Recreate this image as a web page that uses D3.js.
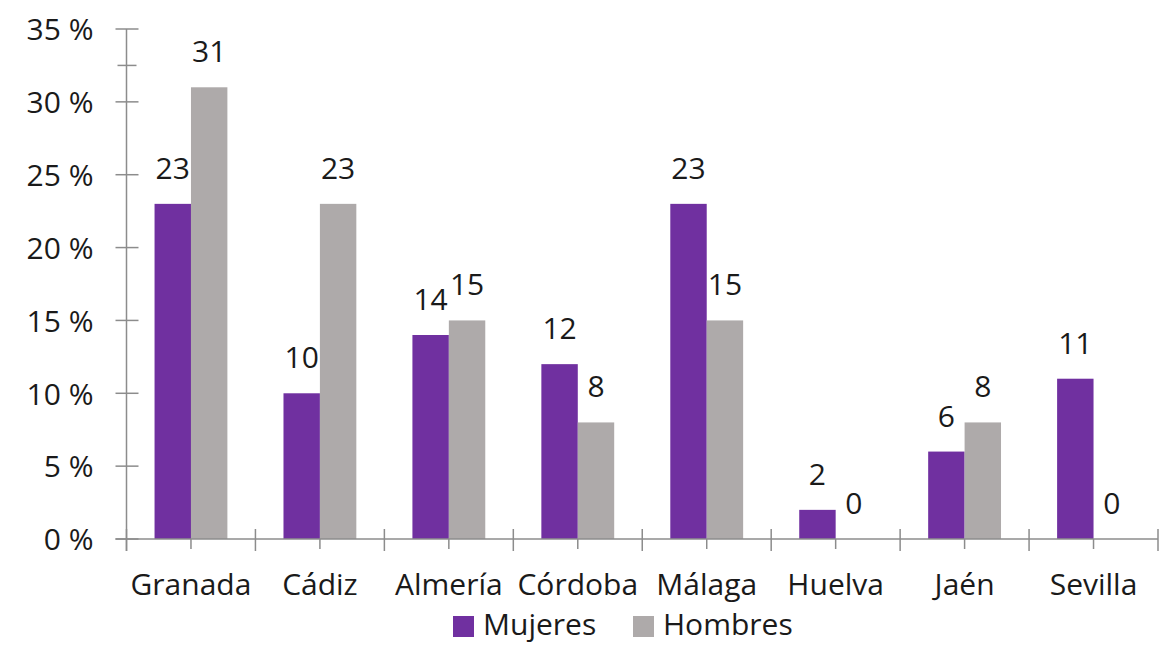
<!DOCTYPE html>
<html>
<head>
<meta charset="utf-8">
<script src="https://cdn.jsdelivr.net/npm/d3@7"></script>
<style>
  body { margin: 0; background: #fff; }
  text { font-family: "Open Sans", sans-serif; fill: #1a1a1a; }
</style>
</head>
<body>
<div id="chart"></div>
<script>
const provincias = ["Granada", "Cádiz", "Almería", "Córdoba", "Málaga", "Huelva", "Jaén", "Sevilla"];
const series = ["Mujeres", "Hombres"];
const mujeres = [23, 10, 14, 12, 23, 2, 6, 11];
const hombres = [31, 23, 15, 8, 15, 0, 8, 0];
const yTicks = [0, 5, 10, 15, 20, 25, 30, 35];
const colors = { Mujeres: "#7030a0", Hombres: "#aeaaaa" };

const width = 1161, height = 645;
const margin = { top: 29, right: 3, bottom: 106, left: 126.5 };
const axisColor = "#8c8c8c";
const fontSize = 30;

const svg = d3.select("#chart").append("svg")
    .attr("width", width)
    .attr("height", height);

const x0 = d3.scaleBand()
    .domain(provincias)
    .range([margin.left, width - margin.right])
    .paddingInner(0).paddingOuter(0);

const x1 = d3.scaleBand()
    .domain(series)
    .range([0, x0.bandwidth()])
    .paddingInner(0).paddingOuter(0.77);

const y = d3.scaleLinear()
    .domain([0, 35])
    .range([height - margin.bottom, margin.top]);

const data = provincias.map((p, i) => ({ provincia: p, Mujeres: mujeres[i], Hombres: hombres[i] }));

// bars
const groups = svg.append("g").selectAll("g")
    .data(data)
    .join("g")
    .attr("transform", d => `translate(${x0(d.provincia)},0)`);

groups.selectAll("rect")
    .data(d => series.map(s => ({ key: s, value: d[s] })))
    .join("rect")
    .attr("x", d => x1(d.key))
    .attr("y", d => y(d.value))
    .attr("width", x1.bandwidth())
    .attr("height", d => y(0) - y(d.value))
    .attr("fill", d => colors[d.key]);

groups.selectAll("text.lbl")
    .data(d => series.map(s => ({ key: s, value: d[s] })))
    .join("text")
    .attr("class", "lbl")
    .attr("x", d => x1(d.key) + x1.bandwidth() / 2)
    .attr("y", d => y(d.value) - 25)
    .attr("text-anchor", "middle")
    .attr("font-size", fontSize)
    .text(d => d.value);

// y axis
const yAxis = svg.append("g")
    .attr("transform", `translate(${margin.left},0)`)
    .call(d3.axisLeft(y).tickValues(yTicks).tickSize(0).tickPadding(33)
        .tickFormat(d => d + " %"));
yAxis.select(".domain").remove();
yAxis.selectAll("text").attr("font-size", fontSize).attr("dy", "0.36em").attr("fill", "#1a1a1a");

svg.append("g").selectAll("line")
    .data(yTicks)
    .join("line")
    .attr("x1", margin.left - 11).attr("x2", margin.left + 12)
    .attr("y1", d => y(d)).attr("y2", d => y(d))
    .attr("stroke", axisColor).attr("stroke-width", 1.5);

svg.append("line")
    .attr("x1", margin.left - 9).attr("x2", margin.left + 10)
    .attr("y1", y(32.5)).attr("y2", y(32.5))
    .attr("stroke", axisColor).attr("stroke-width", 1.5);

svg.append("line")
    .attr("x1", margin.left).attr("x2", margin.left)
    .attr("y1", y(35)).attr("y2", y(0) + 12)
    .attr("stroke", axisColor).attr("stroke-width", 1.5);

// x axis
svg.append("line")
    .attr("x1", margin.left - 11).attr("x2", width - margin.right)
    .attr("y1", y(0)).attr("y2", y(0))
    .attr("stroke", axisColor).attr("stroke-width", 1.5);

const bounds = provincias.map(p => x0(p)).concat([x0.range()[1]]);
svg.append("g").selectAll("line")
    .data(bounds)
    .join("line")
    .attr("x1", d => d).attr("x2", d => d)
    .attr("y1", y(0) - 10).attr("y2", y(0) + 12)
    .attr("stroke", axisColor).attr("stroke-width", 1.5);

svg.append("g").selectAll("line")
    .data(provincias)
    .join("line")
    .attr("x1", d => x0(d) + x0.bandwidth() / 2).attr("x2", d => x0(d) + x0.bandwidth() / 2)
    .attr("y1", y(0)).attr("y2", y(0) + 10)
    .attr("stroke", axisColor).attr("stroke-width", 1.5);

svg.append("g").selectAll("text")
    .data(provincias)
    .join("text")
    .attr("x", d => x0(d) + x0.bandwidth() / 2)
    .attr("y", 595)
    .attr("text-anchor", "middle")
    .attr("font-size", fontSize)
    .text(d => d);

// legend
const legendX = [453, 633];
const legend = svg.append("g").selectAll("g")
    .data(series)
    .join("g")
    .attr("transform", (d, i) => `translate(${legendX[i]},616)`);
legend.append("rect")
    .attr("width", 21).attr("height", 21)
    .attr("fill", d => colors[d]);
legend.append("text")
    .attr("x", 30).attr("y", 19)
    .attr("font-size", fontSize)
    .text(d => d);
</script>
</body>
</html>
